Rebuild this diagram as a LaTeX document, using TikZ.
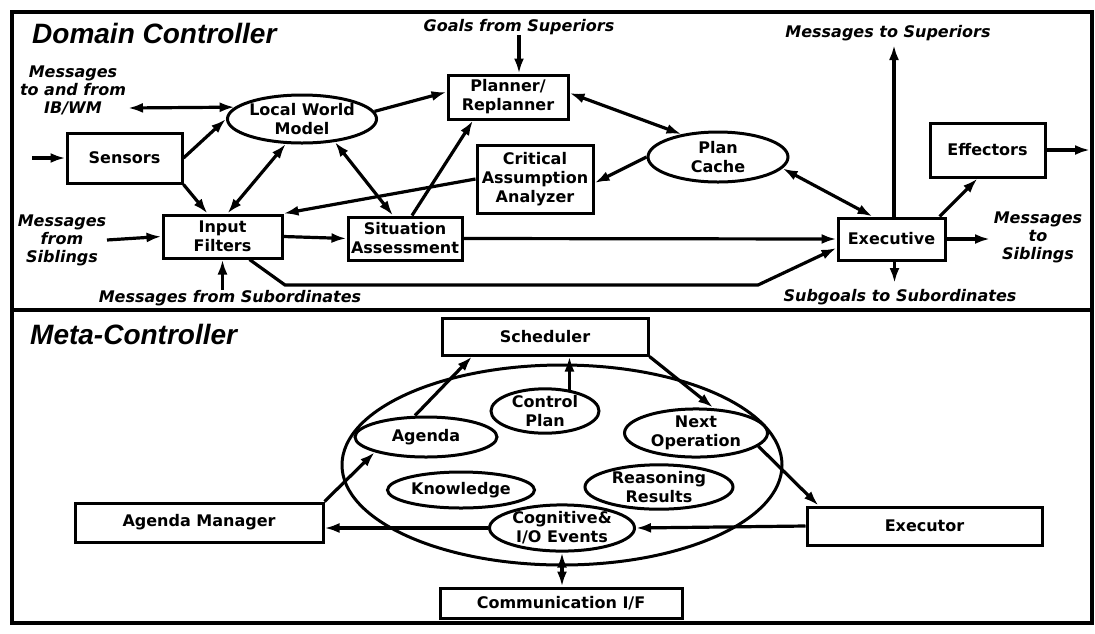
\documentclass[tikz,border=0pt]{standalone}
\usepackage{fontspec}
\setmainfont{DejaVu Sans}
\newfontfamily\ttlfont{Liberation Sans}
\usetikzlibrary{arrows.meta,shapes.geometric}

\begin{document}
\begin{tikzpicture}[x=1pt,y=-1pt,
  box/.style={draw,rectangle,line width=3pt,inner sep=0pt,align=center,font=\bfseries\fontsize{16}{19}\selectfont},
  oval/.style={draw,ellipse,line width=3pt,inner sep=0pt,align=center,font=\bfseries\fontsize{16}{19}\selectfont},
  lab/.style={inner sep=0pt,align=center,font=\bfseries\itshape\fontsize{16}{18}\selectfont},
  ttl/.style={inner sep=0pt,anchor=west,font=\ttlfont\bfseries\itshape\fontsize{28}{30}\selectfont},
  tip/.style={line width=3.2pt,-{Latex[length=15pt,width=10pt]}},
  both/.style={line width=3.2pt,{Latex[length=15pt,width=10pt]}-{Latex[length=15pt,width=10pt]}}]

\useasboundingbox (0,0) rectangle (1095,633);

% outer frame and the divider between the two controllers
\draw[line width=4pt] (12,12) rectangle (1092,623);
\draw[line width=4pt] (12,310) -- (1092,310);

% ---------------- Domain Controller ----------------
\node[ttl] (dctitle) at (32,33) {Domain Controller};

\node[box,minimum width=115pt,minimum height=50pt] (sensors) at (124.5,158) {Sensors};
\node[box,minimum width=119pt,minimum height=43pt] (inputf) at (222.5,236.5) {Input\\Filters};
\node[box,minimum width=114pt,minimum height=43pt] (sitass) at (405,238.5) {Situation\\Assessment};
\node[box,minimum width=116pt,minimum height=68pt] (caa) at (535,179) {Critical\\Assumption\\Analyzer};
\node[box,minimum width=120pt,minimum height=44pt] (planner) at (508,97) {Planner/\\Replanner};
\node[box,minimum width=107pt,minimum height=42pt] (executive) at (891.5,239) {Executive};
\node[box,minimum width=115pt,minimum height=54pt] (effectors) at (987.5,150) {Effectors};
\node[oval,minimum width=140pt,minimum height=48pt] (lwm) at (302,119) {Local World\\Model};
\node[oval,minimum width=140pt,minimum height=50pt] (plancache) at (718,157) {Plan\\Cache};

\node[lab] (msgib) at (73,90) {Messages\\to and from\\IB/WM};
\node[lab] (msgsib) at (62,240) {Messages\\from\\Siblings};
\node[lab] (msgsub) at (230,298) {Messages from Subordinates};
\node[lab] (goals) at (519,27) {Goals from Superiors};
\node[lab] (msgsup) at (888,33) {Messages to Superiors};
\node[lab] (msgsibr) at (1038,237) {Messages\\to\\Siblings};
\node[lab] (subgoals) at (900,297) {Subgoals to Subordinates};

\coordinate (ibend) at (128,108);
\coordinate (sensin) at (32,158);
\coordinate (sibstart) at (107,240);
\coordinate (r1) at (285,285);
\coordinate (r2) at (758,285);
\coordinate (supend) at (894,45);
\coordinate (effout) at (1090,150);
\coordinate (sibout) at (990,239);
\coordinate (subout) at (894.5,283);

\draw[both] (ibend) -- (lwm.170);
\draw[tip] (sensin) -- (sensors.west);
\draw[tip] (sensors.east) -- (lwm.west);
\draw[tip] (sensors.south east) -- ([xshift=-15pt]inputf.north);
\draw[both] (lwm.-123) -- ([xshift=5pt]inputf.north);
\draw[both] (lwm.-35) -- ([xshift=-12pt]sitass.north);
\draw[tip] (lwm.6) -- ([yshift=5pt]planner.west);
\draw[tip] ([xshift=7pt]sitass.north) -- ([xshift=-35pt]planner.south);
\draw[tip] (caa.west) -- (inputf.north east);
\draw[tip] (plancache.west) -- ([yshift=-4pt]caa.east);
\draw[both] ([yshift=4pt]planner.east) -- (plancache.148);
\draw[tip] (sibstart) -- (inputf.west);
\draw[tip] (inputf.east) -- (sitass.west);
\draw[tip] (msgsub.north -| inputf.south) -- (inputf.south);
\draw[tip] (goals.south) -- (goals.south |- planner.north);
\draw[tip] (sitass.east) -- (executive.west);
\draw[tip] ([xshift=27pt]inputf.south) -- (r1) -- (r2) -- ([yshift=-9pt]executive.west);
\draw[both] (plancache.-10) -- ([xshift=-19pt]executive.north);
\draw[tip] ([xshift=2.5pt]executive.north) -- (supend);
\draw[tip] ([xshift=48pt]executive.north) -- ([xshift=-10pt]effectors.south);
\draw[tip] (effectors.east) -- (effout);
\draw[tip] (executive.east) -- (sibout);
\draw[tip] ([xshift=3pt]executive.south) -- (subout);

% ---------------- Meta-Controller ----------------
\node[ttl] (mctitle) at (30,334) {Meta-Controller};

\node[oval,minimum width=440pt,minimum height=200pt] (mem) at (562,465) {};
\node[box,minimum width=206pt,minimum height=37pt] (scheduler) at (545,336.5) {Scheduler};
\node[oval,minimum width=142pt,minimum height=40pt] (agenda) at (426,437) {Agenda};
\node[oval,minimum width=108pt,minimum height=42pt] (ctrlplan) at (545,411) {Control\\Plan};
\node[oval,minimum width=143pt,minimum height=44pt] (nextop) at (696,433) {Next\\Operation};
\node[oval,minimum width=147pt,minimum height=36pt] (knowledge) at (461,490) {Knowledge};
\node[oval,minimum width=148pt,minimum height=40pt] (reasoning) at (659,487) {Reasoning\\Results};
\node[oval,minimum width=145pt,minimum height=40pt] (cognitive) at (562,528) {Cognitive\&\\I/O Events};
\node[box,minimum width=242pt,minimum height=30pt] (comm) at (561,603) {Communication I/F};
\node[box,minimum width=248pt,minimum height=39pt] (agman) at (199,522.5) {Agenda Manager};
\node[box,minimum width=235pt,minimum height=38pt] (executor) at (924.5,526) {Executor};

\draw[tip] ([xshift=-11pt]agenda.north) -- ([xshift=-73pt]scheduler.south);
\draw[tip] (ctrlplan.41) -- (ctrlplan.41 |- scheduler.south);
\draw[tip] (scheduler.south east) -- ([xshift=17pt]nextop.north);
\draw[tip] (nextop.-12) -- ([xshift=-106pt]executor.north);
\draw[tip] (agman.north east) -- (agenda.south west);
\draw[tip] (executor.west) -- (cognitive.east);
\draw[tip] (cognitive.west) -- (cognitive.west -| agman.east);
\draw[both] (cognitive.south) -- (cognitive.south |- comm.north);
\end{tikzpicture}
\end{document}
